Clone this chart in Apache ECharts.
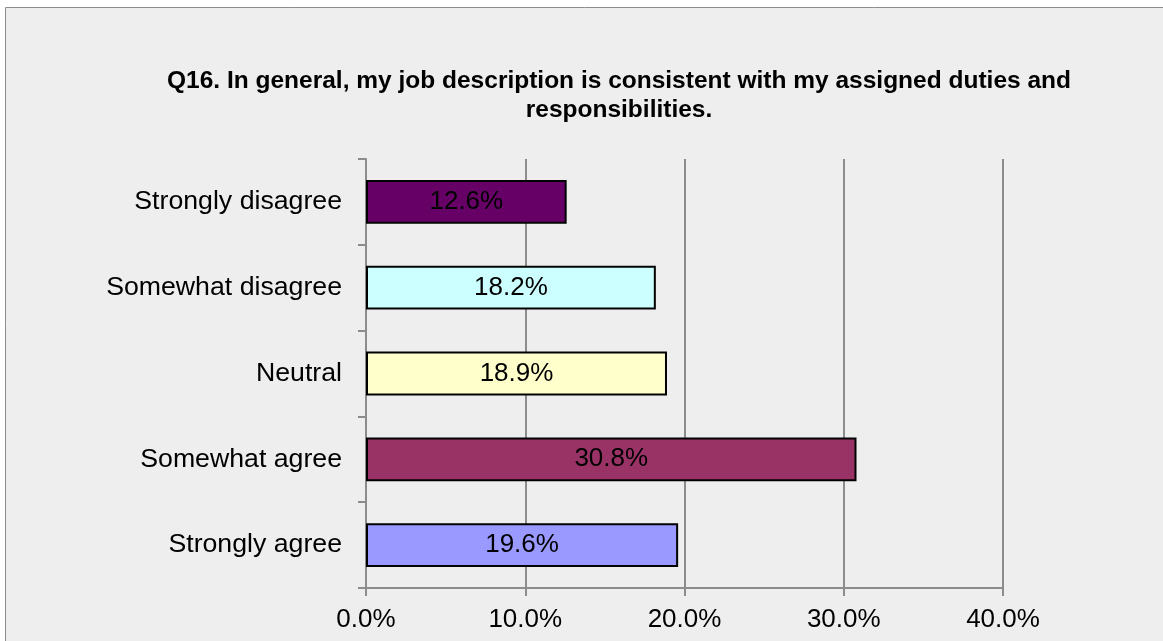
<!DOCTYPE html>
<html>
<head>
<meta charset="utf-8">
<script src="https://cdn.jsdelivr.net/npm/echarts@6/dist/echarts.min.js"></script>
<style>
html,body{margin:0;padding:0;background:#ffffff;}
#chart{width:1163px;height:641px;}
</style>
</head>
<body>
<div id="chart"></div>
<script>
var titleText = 'Q16. In general, my job description is consistent with my assigned duties and\nresponsibilities.';
var categories = ['Strongly disagree', 'Somewhat disagree', 'Neutral', 'Somewhat agree', 'Strongly agree'];
var values = [12.6, 18.2, 18.9, 30.8, 19.6];
var colors = ['#660066', '#CCFFFF', '#FFFFCC', '#993366', '#9999FF'];
var xTicks = [0, 10, 20, 30, 40];

var chart = echarts.init(document.getElementById('chart'), null, {renderer: 'canvas'});
var font = 'Liberation Sans, Arial, sans-serif';
chart.setOption({
  backgroundColor: '#ffffff',
  animation: false,
  graphic: [{
    type: 'rect', z: -10, silent: true,
    shape: {x: 5.5, y: 7.5, width: 1300, height: 800},
    style: {fill: '#eeeeee', stroke: '#8c8c8c', lineWidth: 1}
  }],
  title: {
    text: titleText,
    left: 614, top: 62, textAlign: 'center',
    textStyle: {fontFamily: font, fontSize: 24.5, fontWeight: 'bold', color: '#000', lineHeight: 29}
  },
  grid: {left: 366, top: 159, width: 637, height: 429, containLabel: false},
  xAxis: {
    type: 'value', min: xTicks[0], max: xTicks[xTicks.length - 1], interval: 10,
    axisLine: {show: true, lineStyle: {color: '#8c8c8c', width: 2}},
    axisTick: {show: true, length: 8, lineStyle: {color: '#8c8c8c', width: 2}},
    splitLine: {show: true, lineStyle: {color: '#8c8c8c', width: 2}},
    axisLabel: {fontFamily: font, fontSize: 26, color: '#000', margin: 19,
      formatter: function (v) { return v.toFixed(1) + '%'; }}
  },
  yAxis: {
    type: 'category', data: categories, inverse: true,
    axisLine: {show: true, lineStyle: {color: '#8c8c8c', width: 2}},
    axisTick: {show: true, length: 8, alignWithLabel: false, lineStyle: {color: '#8c8c8c', width: 2}},
    splitLine: {show: false},
    axisLabel: {fontFamily: font, fontSize: 26.7, color: '#000', margin: 24}
  },
  series: [{
    type: 'bar',
    barWidth: '51%',
    data: values.map(function (v, i) {
      return {value: v, itemStyle: {color: colors[i]}};
    }),
    itemStyle: {borderColor: '#000', borderWidth: 2},
    label: {show: true, position: 'inside', fontFamily: font, fontSize: 26, color: '#000',
      formatter: function (p) { return p.value.toFixed(1) + '%'; }}
  }]
});
</script>
</body>
</html>
